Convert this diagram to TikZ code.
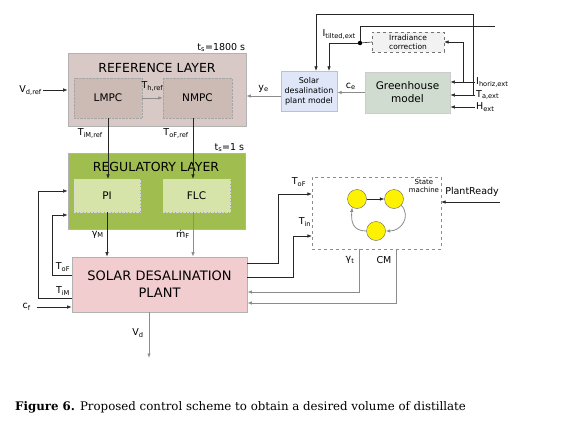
\documentclass[tikz,border=0pt]{standalone}
\usepackage{fontspec}
\setsansfont{DejaVu Sans}
\newfontfamily\capfont{DejaVu Serif}
\usetikzlibrary{arrows.meta}
\definecolor{refcol}{RGB}{217,201,198}
\definecolor{mpccol}{RGB}{204,186,181}
\definecolor{regcol}{RGB}{160,190,80}
\definecolor{ctlcol}{RGB}{214,228,170}
\definecolor{plantcol}{RGB}{242,205,207}
\definecolor{modelcol}{RGB}{222,230,248}
\definecolor{ghcol}{RGB}{208,220,208}
\begin{document}
\begin{tikzpicture}[x=1pt, y=-1pt,
	font=\sffamily\fontsize{9.5}{11}\selectfont,
	>={Latex[length=4.5pt,width=3.5pt]},
	layer/.style={draw=black!30, line width=0.8pt, inner sep=0pt},
	mpcbox/.style={draw=black!35, densely dotted, fill=mpccol, inner sep=0pt, font=\sffamily\fontsize{10.5}{12}\selectfont},
	ctlbox/.style={draw=white!85!black, densely dotted, fill=ctlcol, inner sep=0pt, font=\sffamily\fontsize{10.5}{12}\selectfont},
	title/.style={font=\sffamily\fontsize{12.5}{14}\selectfont},
	sig/.style={draw=black!85, line width=0.6pt},
	gsig/.style={draw=black!45, line width=0.8pt},
	lbl/.style={inner sep=1pt},
	state/.style={circle, draw=black!60, fill=yellow, minimum size=19pt, inner sep=0pt}]
	\useasboundingbox (0,0) rectangle (565,423);
	
	\node[layer, fill=refcol, minimum width=178pt, minimum height=73pt] (ref) at (157,89.5) {};
	\node[title] (reftitle) at (157,68) {REFERENCE LAYER};
	\node[mpcbox, minimum width=68pt, minimum height=40pt] (lmpc) at (108,98) {LMPC};
	\node[mpcbox, minimum width=69pt, minimum height=40pt] (nmpc) at (197.5,98) {NMPC};
	\node[lbl, anchor=south east] (tsref) at (ref.north east) {t\textsubscript{s}=1800 s};
	
	\node[layer, fill=regcol, minimum width=177pt, minimum height=76pt] (reg) at (156.5,191) {};
	\node[title] (regtitle) at (156,167) {REGULATORY LAYER};
	\node[ctlbox, minimum width=66pt, minimum height=33pt] (pi) at (107,195.5) {PI};
	\node[ctlbox, minimum width=67pt, minimum height=33pt] (flc) at (196.5,195.5) {FLC};
	\node[lbl, anchor=south east] (tsreg) at (reg.north east) {t\textsubscript{s}=1 s};
	
	\node[layer, fill=plantcol, minimum width=175pt, minimum height=55pt, align=center, font=\sffamily\fontsize{13}{17}\selectfont] (plant) at (159.5,284.5) {SOLAR DESALINATION\\PLANT};
	
	\node[draw=blue!25!black!25, fill=modelcol, minimum width=56pt, minimum height=40pt, inner sep=0pt, align=center, font=\sffamily\fontsize{8}{10}\selectfont] (solar) at (309,91) {Solar\\desalination\\plant model};
	\node[draw=black!20, line width=0.8pt, fill=ghcol, minimum width=85pt, minimum height=41pt, inner sep=0pt, align=center, font=\sffamily\fontsize{10.5}{13}\selectfont] (gh) at (407.5,92.5) {Greenhouse\\model};
	\node[draw=black!55, dashed, fill=black!5, minimum width=72pt, minimum height=20pt, inner sep=0pt, align=center, font=\sffamily\fontsize{7.5}{9}\selectfont] (irr) at (408,42) {Irradiance\\correction};
	\node[circle, fill=black, minimum size=4.5pt, inner sep=0pt] (tdot) at (360,43) {};
	
	\node[draw=black!45, dashed, minimum width=129pt, minimum height=72pt, inner sep=0pt] (sm) at (376.5,213) {};
	\node[anchor=north east, align=center, inner sep=1pt, font=\sffamily\fontsize{7}{8.5}\selectfont] (smtxt) at ([xshift=-1pt,yshift=-1pt]sm.north east) {State\\machine};
	\foreach \n/\x/\y in {s1/357/199, s2/394/199, s3/376/231}
	{
		\node[state] (\n) at (\x,\y) {};
	}
	\draw[sig,->] (s1) -- (s2);
	\draw[gsig,->] (s2.-40) to[out=-50, in=0, looseness=1.3] (s3.east);
	\draw[gsig,->] (s3.west) to[out=180, in=-95, looseness=1.3] (s1.-120);
	
	\coordinate (vdin) at (43,90);
	\node[lbl, anchor=east] (vdref) at (vdin) {V\textsubscript{d,ref}};
	\draw[sig,->] (vdin) -- (vdin -| ref.west);
	\draw[gsig,->] (lmpc.east) -- (nmpc.west) node[lbl, midway, above=5pt] (thref) {T\textsubscript{h,ref}};
	\draw[gsig,->] ([yshift=-5pt]solar.west) -- ([yshift=-5pt]solar.west -| ref.east) node[lbl, midway, above=2pt] (ye) {y\textsubscript{e}};
	\draw[gsig,->] (gh.west) -- (gh.west -| solar.east) node[lbl, midway, above=2pt] (ce) {c\textsubscript{e}};
	
	\coordinate (ihz) at (475,82);
	\coordinate (tax) at (475,95);
	\coordinate (hx) at (475,107);
	\node[lbl, anchor=west] (ihzlbl) at (ihz) {I\textsubscript{horiz,ext}};
	\node[lbl, anchor=west] (taxlbl) at (tax) {T\textsubscript{a,ext}};
	\node[lbl, anchor=west] (hxlbl) at (hx) {H\textsubscript{ext}};
	\foreach \c in {ihz, tax, hx}
	{
		\draw[sig,->] (\c) -- (\c -| gh.east);
	}
	\coordinate (ihzb) at (463,82);
	\coordinate (taxb) at (473,95);
	\coordinate (tfree) at (495,26);
	\draw[sig,->] (ihzb) |- (irr.east);
	\draw[sig,->] (taxb) -- ++(0,-81) -| ([xshift=7pt]solar.north);
	\draw[sig] (irr.west) -- (tdot);
	\draw[sig,->] (tdot) -| ([xshift=20pt]solar.north);
	\draw[sig] (tdot) |- (tfree);
	\node[lbl, anchor=east] (itilt) at (357,34) {I\textsubscript{tilted,ext}};
	
	\draw[sig,->] (lmpc.south) -- (lmpc.south |- pi.north);
	\node[lbl, anchor=east] (timref) at (104,133) {T\textsubscript{iM,ref}};
	\draw[sig,->] ([xshift=-4.5pt]nmpc.south) -- ([xshift=-4.5pt]nmpc.south |- flc.north);
	\node[lbl, anchor=east] (tofref) at (190,133) {T\textsubscript{oF,ref}};
	
	\draw[sig,->] (pi.south) -- (pi.south |- plant.north) node[lbl, midway, left=2pt] (gm) {γ\textsubscript{M}};
	\draw[gsig,->] ([xshift=-3.5pt]flc.south) -- ([xshift=-3.5pt]flc.south |- plant.north) node[lbl, midway, left=2pt] (mf) {\.{m}\textsubscript{F}};
	\coordinate (vdout) at (149,358);
	\draw[gsig,->] (plant.south -| vdout) -- (vdout) node[lbl, pos=0.45, left=4pt] (vd) {V\textsubscript{d}};
	
	\draw[sig,->] ([yshift=-13.5pt]plant.west) -- ++(-33,0) |- (reg.west);
	\draw[sig,->] ([yshift=9.5pt]plant.west) -- ++(-19,0) |- ([yshift=-24pt]reg.west);
	\node[lbl] (tof) at (63,267) {T\textsubscript{oF}};
	\node[lbl] (tim) at (63,291) {T\textsubscript{iM}};
	\coordinate (cfin) at (37,307);
	\node[lbl, anchor=east] (cf) at ([xshift=-5pt]cfin) {c\textsubscript{f}};
	\draw[sig,->] (cfin) -- (cfin -| plant.west);
	
	\draw[sig,->] ([yshift=21.5pt]plant.east) -- ++(31,0) |- ([yshift=19pt]sm.west);
	\draw[sig,->] ([yshift=7.5pt]plant.east) -- ++(46,0) |- ([yshift=-23pt]sm.west);
	\node[lbl] (tofsm) at (299,182) {T\textsubscript{oF}};
	\node[lbl] (tinsm) at (305,222) {T\textsubscript{in}};
	\draw[gsig,->] ([xshift=-17.5pt]sm.south) |- ([yshift=-7.5pt]plant.east);
	\draw[gsig,->] ([xshift=19.5pt]sm.south) |- ([yshift=-18.5pt]plant.east);
	\node[lbl] (gt) at (350,260) {γ\textsubscript{t}};
	\node[lbl] (cm) at (384,260) {CM};
	\coordinate (prin) at (500,202);
	\draw[sig,->] (prin) -- (prin -| sm.east);
	\node[lbl] (prlbl) at (472,192) {PlantReady};
	
	\node[anchor=west, inner sep=0pt, font=\capfont\fontsize{11.8}{14}\selectfont] (caption) at (15,407) {\textbf{Figure 6.} Proposed control scheme to obtain a desired volume of distillate};
\end{tikzpicture}
\end{document}
